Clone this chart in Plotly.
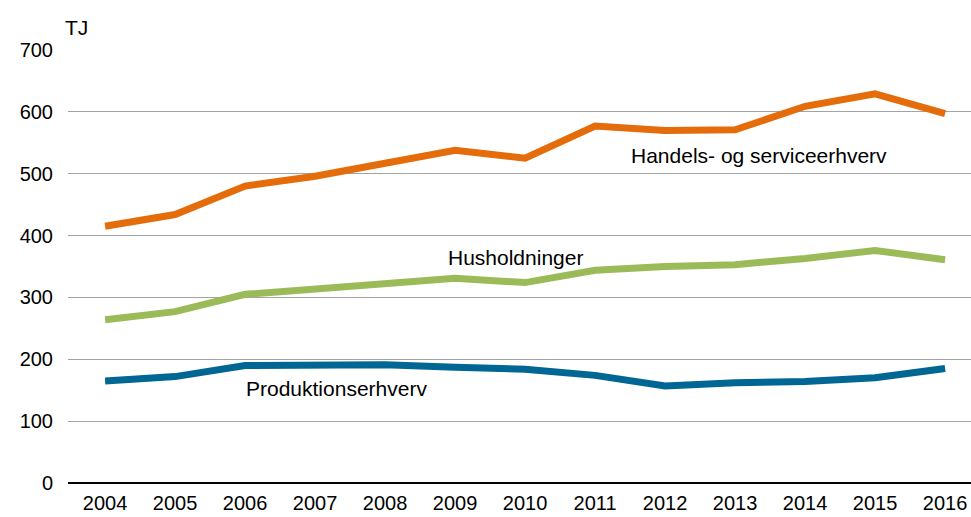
import plotly.graph_objects as go

years = list(range(2004, 2017))
handel = [415, 434, 480, 496, 517, 538, 525, 577, 570, 571, 609, 629, 597]
husholdninger = [264, 277, 305, 313, 321, 331, 324, 344, 350, 353, 363, 376, 361]
produktion = [165, 172, 190, 190, 191, 187, 184, 174, 157, 162, 164, 170, 185]
y_ticks = [0, 100, 200, 300, 400, 500, 600, 700]

FONT = "Liberation Sans, Arial, sans-serif"

fig = go.Figure()
fig.add_trace(go.Scatter(x=years, y=produktion, mode="lines", name="Produktionserhverv",
                         line=dict(color="#006694", width=7)))
fig.add_trace(go.Scatter(x=years, y=husholdninger, mode="lines", name="Husholdninger",
                         line=dict(color="#9BBB59", width=7)))
fig.add_trace(go.Scatter(x=years, y=handel, mode="lines", name="Handels- og serviceerhverv",
                         line=dict(color="#E46C0A", width=7)))

ann_font = dict(family=FONT, size=21, color="#000000")
fig.add_annotation(x=2011.49, y=530, text="Handels- og serviceerhverv", showarrow=False,
                   xanchor="left", yanchor="middle", font=ann_font)
fig.add_annotation(x=2008.87, y=365, text="Husholdninger", showarrow=False,
                   xanchor="left", yanchor="middle", font=ann_font)
fig.add_annotation(x=2005.98, y=153, text="Produktionserhverv", showarrow=False,
                   xanchor="left", yanchor="middle", font=ann_font)
fig.add_annotation(x=-0.006, y=1.051, xref="paper", yref="paper", text="TJ", showarrow=False,
                   xanchor="left", yanchor="middle", font=ann_font)

fig.update_layout(
    width=971, height=517,
    margin=dict(l=68, r=0, t=50, b=34),
    plot_bgcolor="white", paper_bgcolor="white",
    showlegend=False,
    font=dict(family=FONT, size=20, color="#000000"),
    xaxis=dict(range=[2003.47, 2016.37], tickmode="array", tickvals=years,
               ticktext=[str(y) for y in years], showgrid=False, zeroline=False,
               showline=False, ticks="", ticklabelstandoff=6,
               tickfont=dict(family=FONT, size=20, color="#000000")),
    yaxis=dict(range=[0, 700], tickmode="array", tickvals=y_ticks,
               showgrid=True, gridcolor="#A3A3A3", gridwidth=1.3,
               zeroline=True, zerolinecolor="#000000", zerolinewidth=2,
               showline=False, ticks="", ticklabelstandoff=14,
               tickfont=dict(family=FONT, size=20, color="#000000")),
)

fig.write_html("out.html", config={"displayModeBar": False},
               post_script="document.body.style.margin='0';document.body.style.overflow='hidden';")
